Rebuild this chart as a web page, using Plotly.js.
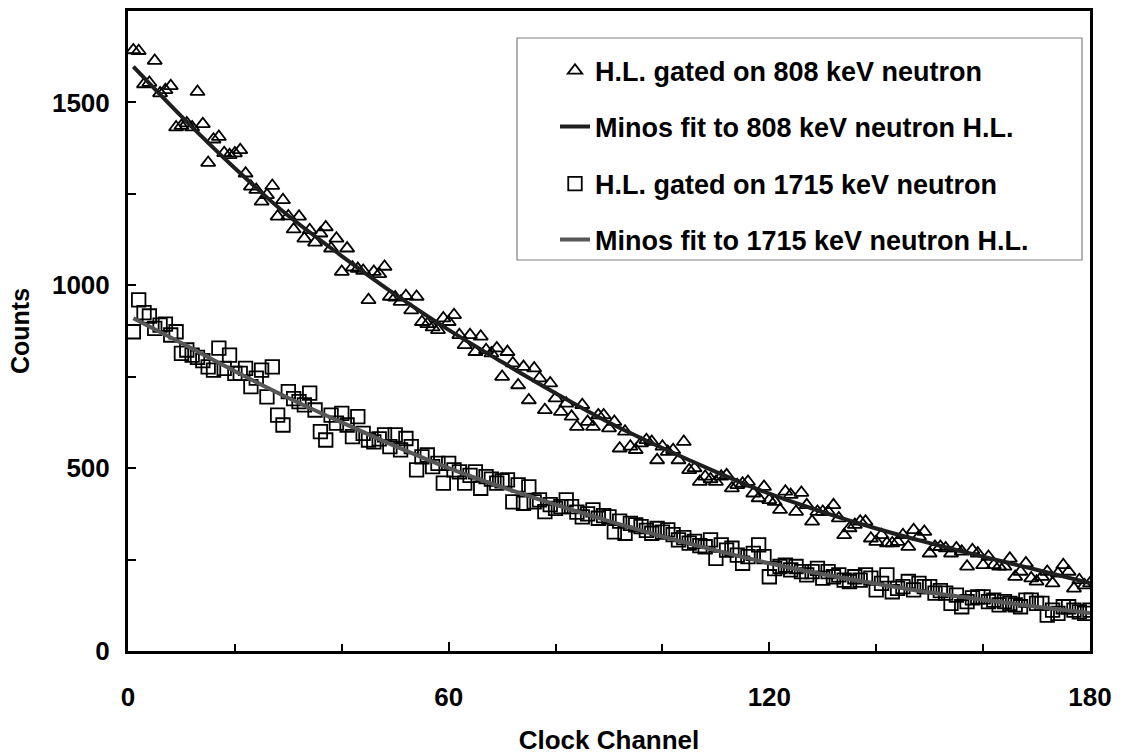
<!DOCTYPE html>
<html>
<head>
<meta charset="utf-8">
<script src="https://cdn.plot.ly/plotly-3.0.1.min.js"></script>
<style>html,body{margin:0;padding:0;background:#fff;}#chart{width:1125px;height:755px;}</style>
</head>
<body>
<div id="chart"></div>
<script>
// Channels 1..180
const channels = Array.from({length: 180}, (_, i) => i + 1);

// Counts, H.L. gated on 808 keV neutron (triangles), channels 1..180
const counts808 = [
1643,1641,1550,1554,1614,1525,1534,1545,1432,1436,
1443,1432,1529,1441,1335,1399,1406,1362,1356,1361,
1370,1306,1270,1261,1229,1247,1272,1188,1233,1189,
1153,1188,1128,1151,1117,1142,1159,1101,1128,1037,
1101,1049,1045,1040,960,1037,1031,1051,969,967,
955,971,932,969,900,894,885,878,910,900,
919,864,837,864,818,860,823,814,828,750,
818,787,727,777,686,773,746,659,732,691,
654,677,641,613,673,627,613,645,645,609,
627,554,600,559,550,568,577,572,522,559,
545,550,522,572,495,500,463,477,470,463,
477,481,445,454,458,463,431,418,449,413,
408,386,436,427,381,433,399,354,381,381,
381,399,363,317,336,345,354,354,308,299,
317,295,295,299,317,285,331,313,326,267,
285,285,281,267,281,272,231,276,267,235,
258,235,231,231,253,203,217,240,199,190,
203,217,185,212,235,217,171,194,180,185
];

// Counts, H.L. gated on 1715 keV neutron (squares), channels 1..180
const counts1715 = [
873,960,925,916,882,891,894,864,873,814,
823,809,803,794,777,768,828,773,809,759,
759,773,723,746,768,695,777,645,618,709,
690,682,673,705,659,600,577,645,623,650,
618,586,641,595,577,572,580,591,559,591,
550,581,559,495,531,536,504,513,459,513,
495,490,459,480,490,445,477,470,459,465,
468,408,454,404,449,408,413,381,400,390,
395,413,395,380,367,375,386,363,370,367,
326,355,322,349,345,340,330,322,335,325,
331,318,304,310,295,300,288,285,304,253,
290,276,281,262,240,258,267,290,258,203,
225,231,235,222,231,217,208,217,226,199,
217,203,208,194,190,203,194,208,199,167,
185,208,162,171,176,190,167,185,176,176,
158,165,158,130,153,121,135,145,148,148,
135,139,126,135,130,126,121,139,139,130,
130,98,112,103,121,121,112,107,103,112
];

// Minos fit curves
const fitChannels = [1,10,20,30,40,50,60,70,80,90,100,110,120,130,140,150,160,170,180];
const fit808  = [1598,1462,1320,1190,1080,975,878,790,705,625,555,490,430,380,335,295,258,222,186];
const fit1715 = [910,842,765,692,625,560,500,448,400,355,313,275,240,210,184,160,140,121,104];

const legendLabels = [
  'H.L. gated on 808 keV neutron',
  'Minos fit to 808 keV neutron H.L.',
  'H.L. gated on 1715 keV neutron',
  'Minos fit to 1715 keV neutron H.L.'
];

const FONT = 'Liberation Sans, Arial, Helvetica, sans-serif';

const traces = [
  {x: channels, y: counts808, type: 'scatter', mode: 'markers', name: legendLabels[0],
   legend: 'legend',
   marker: {symbol: 'triangle-up-open', size: 12.5, color: '#000', line: {width: 1.8, color: '#000'}}},
  {x: channels, y: counts1715, type: 'scatter', mode: 'markers', name: legendLabels[2],
   legend: 'legend3',
   marker: {symbol: 'square-open', size: 13.5, color: '#000', line: {width: 1.8, color: '#000'}}},
  {x: fitChannels, y: fit808, type: 'scatter', mode: 'lines', name: legendLabels[1],
   legend: 'legend2',
   line: {color: '#1e1e1e', width: 4, shape: 'spline', smoothing: 0.8}},
  {x: fitChannels, y: fit1715, type: 'scatter', mode: 'lines', name: legendLabels[3],
   legend: 'legend4',
   line: {color: '#575757', width: 4, shape: 'spline', smoothing: 0.8}}
];

function px2paperX(p){ return (p - 128) / 962; }
function px2paperY(p){ return (651 - p) / 640; }

function legendAt(rowPx){
  return {
    x: px2paperX(555), xanchor: 'left',
    y: px2paperY(rowPx), yanchor: 'middle',
    bgcolor: 'rgba(0,0,0,0)', borderwidth: 0,
    font: {family: FONT, size: 27, color: '#000', weight: 'bold'}
  };
}

const layout = {
  width: 1125, height: 755,
  margin: {l: 128, r: 35, t: 11, b: 104},
  paper_bgcolor: '#fff', plot_bgcolor: '#fff',
  font: {family: FONT, size: 26, color: '#000', weight: 'bold'},
  showlegend: true,
  legend: legendAt(71),
  legend2: legendAt(127),
  legend3: legendAt(184),
  legend4: legendAt(240),
  xaxis: {
    range: [0, 180], dtick: 60, tick0: 0,
    showgrid: false, zeroline: false,
    showline: true, linecolor: '#000', linewidth: 3, mirror: true,
    ticks: 'inside', ticklen: 9, tickwidth: 2, tickcolor: '#000',
    minor: {dtick: 20, ticks: 'inside', ticklen: 7, tickwidth: 2, tickcolor: '#000', showgrid: false},
    ticklabelstandoff: 21,
    tickfont: {family: FONT, size: 26, color: '#000', weight: 'bold'},
    title: {text: 'Clock Channel', standoff: 22, font: {family: FONT, size: 26, color: '#000', weight: 'bold'}}
  },
  yaxis: {
    range: [0, 1750], dtick: 500, tick0: 0,
    showgrid: false, zeroline: false,
    showline: true, linecolor: '#000', linewidth: 3, mirror: true,
    ticks: 'inside', ticklen: 8, tickwidth: 2, tickcolor: '#000',
    minor: {dtick: 250, ticks: 'inside', ticklen: 8, tickwidth: 2, tickcolor: '#000', showgrid: false},
    ticklabelstandoff: 10,
    tickfont: {family: FONT, size: 26, color: '#000', weight: 'bold'},
    title: {text: 'Counts', standoff: 16, font: {family: FONT, size: 25, color: '#000', weight: 'bold'}}
  },
  shapes: [
    {type: 'rect', xref: 'paper', yref: 'paper',
     x0: px2paperX(517), x1: px2paperX(1082), y0: px2paperY(260), y1: px2paperY(38),
     line: {color: '#808080', width: 1.2}, fillcolor: 'rgba(0,0,0,0)', layer: 'below'}
  ]
};

Plotly.newPlot('chart', traces, layout, {displayModeBar: false, staticPlot: true});
</script>
</body>
</html>
